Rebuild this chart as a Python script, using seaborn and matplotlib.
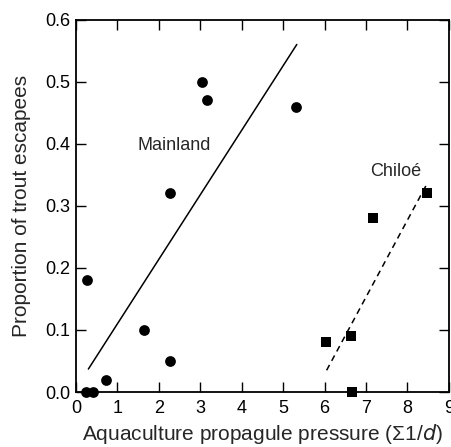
import numpy as np
import pandas as pd
import seaborn as sns
import matplotlib.pyplot as plt

# mainland sites (circles)
main_x = [0.25, 0.27, 0.42, 0.72, 1.64, 2.27, 2.28, 3.05, 3.16, 5.30]
main_y = [0.00, 0.18, 0.00, 0.02, 0.10, 0.05, 0.32, 0.50, 0.47, 0.46]
# Chiloé sites (squares)
chil_x = [6.04, 6.64, 6.67, 7.17, 8.47]
chil_y = [0.08, 0.09, 0.00, 0.28, 0.32]
# fitted lines (end points)
main_fit_x = [0.30, 5.33]
main_fit_y = [0.037, 0.56]
chil_fit_x = [6.05, 8.46]
chil_fit_y = [0.035, 0.334]

sns.set_style("ticks")
plt.rcParams['font.family'] = ['Liberation Sans', 'DejaVu Sans']

fig = plt.figure(figsize=(4.52, 4.47), dpi=100)
ax = fig.add_axes([0.168, 0.123, 0.825, 0.833])

df_m = pd.DataFrame({'x': main_x, 'y': main_y})
df_c = pd.DataFrame({'x': chil_x, 'y': chil_y})

sns.lineplot(x=main_fit_x, y=main_fit_y, ax=ax, color='black', lw=1.1)
sns.lineplot(x=chil_fit_x, y=chil_fit_y, ax=ax, color='black', lw=1.1, linestyle=(0, (4, 3)))
sns.scatterplot(data=df_m, x='x', y='y', ax=ax, marker='o', s=60, color='black',
                edgecolor='black', linewidth=0, clip_on=False, zorder=5)
sns.scatterplot(data=df_c, x='x', y='y', ax=ax, marker='s', s=55, color='black',
                edgecolor='black', linewidth=0, clip_on=False, zorder=5)

ax.text(2.36, 0.397, 'Mainland', ha='center', va='center', fontsize=13)
ax.text(7.71, 0.355, 'Chiloé', ha='center', va='center', fontsize=13)

ax.set_xlim(0, 9)
ax.set_ylim(0, 0.6)
ax.set_xticks(range(0, 10))
ax.set_yticks(np.arange(0, 0.61, 0.1))
ax.set_yticklabels(['0.0', '0.1', '0.2', '0.3', '0.4', '0.5', '0.6'])
ax.tick_params(direction='in', length=7, width=1, top=True, right=True,
               labelsize=13, colors='black', pad=4)
ax.tick_params(axis='x', pad=6)
for s in ax.spines.values():
    s.set_linewidth(1.3)
    s.set_color('black')

ax.set_xlabel('Aquaculture propagule pressure (Σ1/$\\it{d}$)', fontsize=15, labelpad=3)
ax.set_ylabel('Proportion of trout escapees', fontsize=15, labelpad=10)

fig.savefig('out.png', dpi=100)
